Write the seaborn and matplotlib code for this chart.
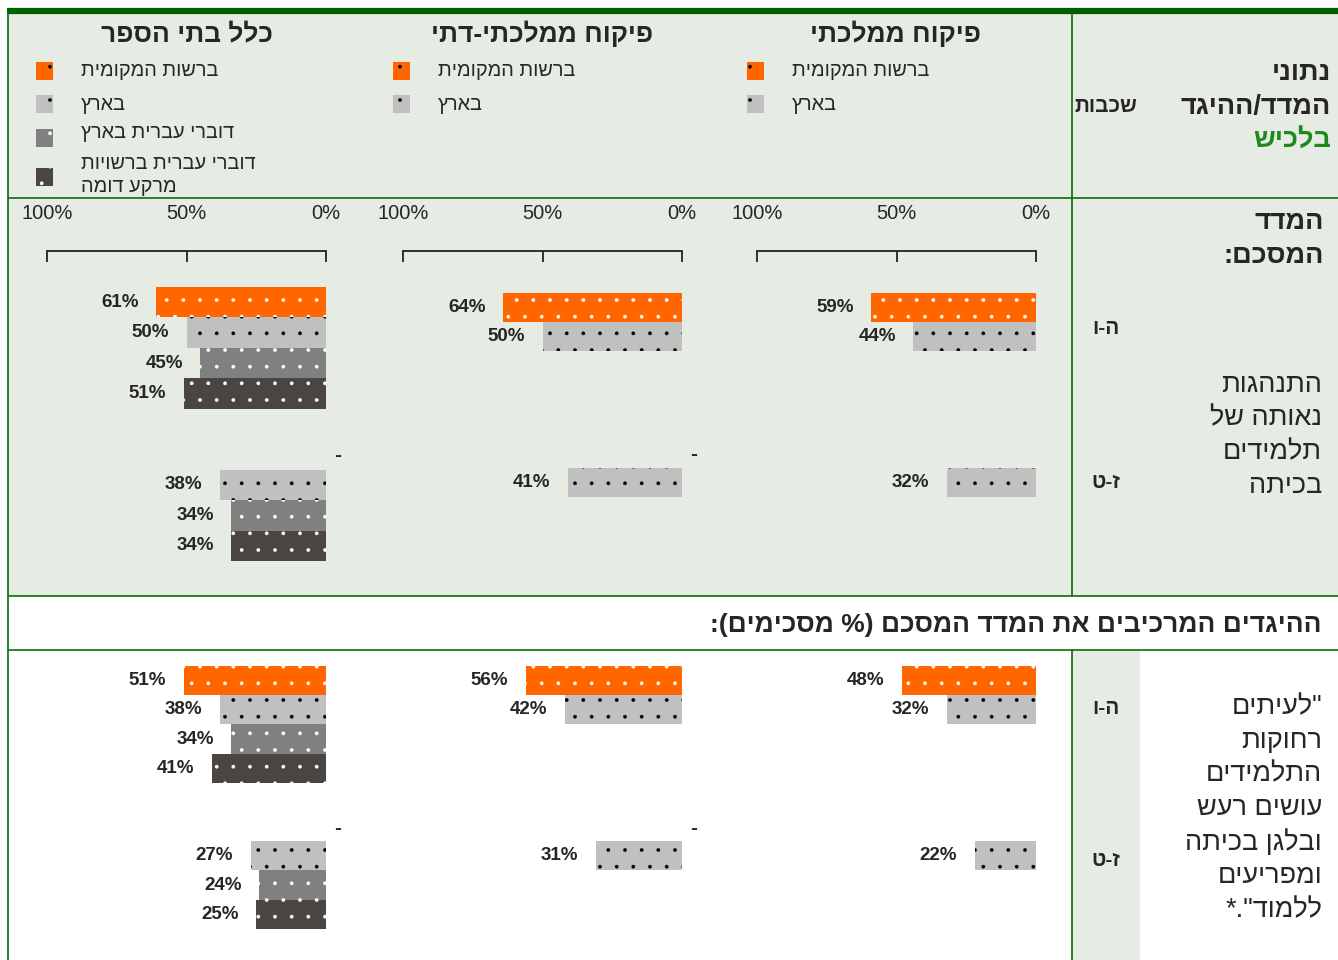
import numpy as np
import pandas as pd
import matplotlib
matplotlib.use("Agg")
import matplotlib.pyplot as plt
import seaborn as sns
from matplotlib.patches import Rectangle

sns.set_style("white")
plt.rcParams['font.family'] = ['Liberation Sans', 'DejaVu Sans']
plt.rcParams['hatch.linewidth'] = 0.25

# ---- data ----
panel_titles = ["כלל בתי הספר", "פיקוח ממלכתי-דתי", "פיקוח ממלכתי"]
series_names = ["ברשות המקומית", "בארץ", "דוברי עברית בארץ",
                "דוברי עברית ברשויות\nמרקע דומה"]
series_colors = ["#FF6600", "#C0C0C0", "#808080", "#4A4541"]
grades = ["ה-ו", "ז-ט"]
tick_values = [100, 50, 0]
tick_labels = ["100%", "50%", "0%"]

# summary index (% agree)
index_all_56 = [61, 50, 45, 51]
index_all_79 = [np.nan, 38, 34, 34]
index_mmd_56 = [64, 50]
index_mmd_79 = [np.nan, 41]
index_mm_56 = [59, 44]
index_mm_79 = [np.nan, 32]

# item: students make noise in class
item_all_56 = [51, 38, 34, 41]
item_all_79 = [np.nan, 27, 24, 25]
item_mmd_56 = [56, 42]
item_mmd_79 = [np.nan, 31]
item_mm_56 = [48, 32]
item_mm_79 = [np.nan, 22]

show_dash = [True, True, False]

GREEN = "#0A6E0A"
BG = "#E6EBE4"
W, H = 1338, 960


def heb(s):
    # visual order for RTL text
    out = []
    for line in s.split("\n"):
        out.append(line[::-1].translate(str.maketrans("()", ")(")))
    return "\n".join(out)


fig = plt.figure(figsize=(W / 100, H / 100), dpi=100)
bg = fig.add_axes([0, 0, 1, 1])
bg.set_xlim(0, W)
bg.set_ylim(H, 0)
bg.axis('off')

# table backgrounds and rules
bg.add_patch(Rectangle((8, 13), W - 8, 583, fc=BG, ec='none'))
bg.add_patch(Rectangle((1072, 650), 68, H - 650, fc=BG, ec='none'))
bg.plot([7, W], [11, 11], color="#006000", lw=4.5, solid_capstyle='butt')
bg.plot([8, 8], [11, H], color=GREEN, lw=1.2)
bg.plot([1072, 1072], [13, 596], color=GREEN, lw=1.2)
bg.plot([1072, 1072], [650, H], color=GREEN, lw=1.2)
for yy in [198, 596, 650]:
    bg.plot([8, W], [yy, yy], color=GREEN, lw=1.2)

# headers
title_x = [187, 542, 896]
for tx, t in zip(title_x, panel_titles):
    bg.text(tx, 34, heb(t), ha='center', va='center', fontsize=19,
            fontweight='bold')

# legends
marker_x = [36, 393, 747]
text_x = [81, 438, 792]
marker_y = [71, 104, 138, 177]
text_y = [70, 104, 133, 175]
for p in range(3):
    n = 4 if p == 0 else 2
    for i in range(n):
        c = series_colors[i]
        dot = 'white' if i >= 2 else 'black'
        bg.add_patch(Rectangle((marker_x[p], marker_y[i] - 9), 17, 18,
                               fc=c, ec=dot, lw=0, hatch='.'))
        bg.text(text_x[p], text_y[i], heb(series_names[i]), ha='left',
                va='center', fontsize=14.3, linespacing=1.3)

# right column texts
bg.text(1106, 107, heb("שכבות"), ha='center', va='center', fontsize=15,
        fontweight='bold')
bg.text(1331, 73, heb("נתוני"), ha='right', va='center', fontsize=19.5,
        fontweight='bold')
bg.text(1331, 107, heb("המדד/ההיגד"), ha='right', va='center', fontsize=19.5,
        fontweight='bold')
bg.text(1331, 140, heb("בלכיש"), ha='right', va='center', fontsize=19.5,
        fontweight='bold', color="#1E8A1E")
bg.text(1324, 222, heb("המדד"), ha='right', va='center', fontsize=19.5,
        fontweight='bold')
bg.text(1324, 256, heb("המסכם:"), ha='right', va='center', fontsize=19.5,
        fontweight='bold')
for k, line in enumerate(["התנהגות", "נאותה של", "תלמידים", "בכיתה"]):
    bg.text(1322, 385 + k * 33.7, heb(line), ha='right', va='center',
            fontsize=19.5)
bg.text(1322, 625, heb("ההיגדים המרכיבים את המדד המסכם (% מסכימים):"),
        ha='right', va='center', fontsize=19, fontweight='bold')
item_lines = ['"לעיתים', "רחוקות", "התלמידים", "עושים רעש", "ובלגן בכיתה",
              "ומפריעים", 'ללמוד".*']
for k, line in enumerate(item_lines):
    bg.text(1322, 707 + k * 33.8, heb(line), ha='right', va='center',
            fontsize=19.5)
for yy56, yy79 in [(329, 482), (708, 860)]:
    bg.text(1106, yy56, heb(grades[0]), ha='center', va='center',
            fontsize=15, fontweight='bold')
    bg.text(1106, yy79, heb(grades[1]), ha='center', va='center',
            fontsize=15, fontweight='bold')

slots = [f"a{i}" for i in range(4)] + ["gap"] + [f"b{i}" for i in range(4)]


def panel(x0, y_top, y_first, sp, v56, v79, dash, with_axis):
    y_bot = y_first + 9 * sp
    ax = fig.add_axes([x0 / W, 1 - y_bot / H, 279 / W, (y_bot - y_top) / H])
    ax.patch.set_alpha(0)
    rows = []
    for i, v in enumerate(v56):
        if not np.isnan(v):
            rows.append((f"a{i}", v, series_names[i]))
    for i, v in enumerate(v79):
        if not np.isnan(v):
            rows.append((f"b{i}", v, series_names[i]))
    df = pd.DataFrame(rows, columns=["slot", "value", "series"])
    pal = {series_names[i]: series_colors[i] for i in range(len(v56))}
    sns.barplot(data=df, x="value", y="slot", order=slots, hue="series",
                palette=pal, dodge=False, width=1.0, errorbar=None,
                legend=False, ax=ax, linewidth=0, saturation=1)
    for bar in ax.patches:
        fc = bar.get_facecolor()
        lum = 0.3 * fc[0] + 0.59 * fc[1] + 0.11 * fc[2]
        bar.set_edgecolor('white' if lum < 0.55 else 'black')
        bar.set_hatch('.')
        bar.set_linewidth(0)
    for _, r in df.iterrows():
        ax.annotate(f"{int(r['value'])}%", xy=(r['value'], slots.index(r['slot'])),
                    xytext=(-12.5, 0), textcoords='offset points', ha='right',
                    va='center', fontsize=13.5, fontweight='bold')
    if dash:
        ax.text(-4, 5 + 0.05, "-", ha='center', va='center', fontsize=15,
                fontweight='bold')
    ax.set_xlim(100, 0)
    ax.set_ylim(8.5, -0.5 - (y_first - y_top) / sp)
    ax.set_xlabel("")
    ax.set_ylabel("")
    ax.set_yticks([])
    for s in ['left', 'right', 'bottom']:
        ax.spines[s].set_visible(False)
    if with_axis:
        ax.xaxis.tick_top()
        ax.set_xticks(tick_values)
        ax.set_xticklabels(tick_labels)
        ax.tick_params(axis='x', direction='in', length=8, width=1.3,
                       pad=20, labelsize=14.5, color='#222222')
        ax.spines['top'].set_color('#222222')
        ax.spines['top'].set_linewidth(1.3)
    else:
        ax.spines['top'].set_visible(False)
        ax.set_xticks([])
    return ax


panel_x = [47, 403, 757]
index_56 = [index_all_56, index_mmd_56, index_mm_56]
index_79 = [index_all_79, index_mmd_79, index_mm_79]
items_56 = [item_all_56, item_mmd_56, item_mm_56]
items_79 = [item_all_79, item_mmd_79, item_mm_79]
for p in range(3):
    if p == 0:
        panel(panel_x[p], 251, 287, 30.44, index_56[p], index_79[p],
              show_dash[p], True)
    else:
        panel(panel_x[p], 251, 293, 29.14, index_56[p], index_79[p],
              show_dash[p], True)
    panel(panel_x[p], 666, 666, 29.2, items_56[p], items_79[p],
          show_dash[p], False)

fig.savefig("out.png", dpi=100)
